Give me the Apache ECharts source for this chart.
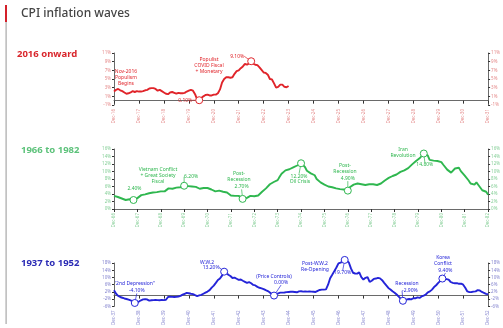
<!DOCTYPE html>
<html>
<head>
<meta charset="utf-8">
<script src="https://cdn.jsdelivr.net/npm/echarts@6/dist/echarts.min.js"></script>
<style>
  html, body { margin: 0; padding: 0; background: #fff; }
  #chart { width: 503px; height: 328px; }
</style>
</head>
<body>
<div id="chart"></div>
<script>
// Year-over-year CPI inflation (%), monthly, each panel starting in December.

// 2016 onward: Dec-2016 .. Dec-2023
const modernCpi = [2.1,
  2.5, 2.7, 2.4, 2.2, 1.9, 1.6, 1.7, 1.9, 2.2, 2.0, 2.2, 2.1,
  2.1, 2.2, 2.4, 2.5, 2.8, 2.9, 2.9, 2.7, 2.3, 2.5, 2.2, 1.9,
  1.6, 1.5, 1.9, 2.0, 1.8, 1.6, 1.8, 1.7, 1.7, 1.8, 2.1, 2.3,
  2.5, 2.3, 1.5, 0.3, 0.1, 0.6, 1.0, 1.3, 1.4, 1.2, 1.2, 1.4,
  1.4, 1.7, 2.6, 4.2, 5.0, 5.4, 5.4, 5.3, 5.4, 6.2, 6.8, 7.0,
  7.5, 7.9, 8.5, 8.3, 8.6, 9.1, 8.5, 8.3, 8.2, 7.7, 7.1, 6.5,
  6.4, 6.0, 5.0, 4.9, 4.0, 3.0, 3.2, 3.7, 3.7, 3.2, 3.1, 3.4];

// 1966 to 1982: Dec-1966 .. Dec-1982
const greatInflationCpi = [
  3.5, 3.4, 3.2, 3.0, 2.8, 2.6, 2.4, 2.5, 2.6, 2.6, 2.4, 2.6, 2.9, 3.3, 3.7, 3.8, 3.9, 4.0,
  4.2, 4.4, 4.4, 4.4, 4.5, 4.5, 4.7, 4.4, 4.7, 5.2, 5.5, 5.5, 5.4, 5.5, 5.7, 5.7, 5.8, 6.0,
  6.2,
  6.1, 6.1, 5.8, 6.0, 6.0, 5.9, 5.9, 5.4, 5.6, 5.6, 5.7, 5.6, 5.3,
  5.2, 5.0, 4.7, 4.8, 4.9, 4.7, 4.6, 4.4, 4.4, 4.0, 3.6, 3.3, 3.5, 3.5, 3.5, 3.2, 2.7, 2.9,
  2.9, 3.2, 3.5, 3.4, 3.4, 3.6,
  3.6, 4.0, 4.6, 5.0, 5.5, 5.5, 6.6, 7.0, 7.2, 7.4, 7.7, 8.6, 9.4, 9.8, 10.3, 10.4, 10.6,
  10.9, 11.1, 11.4, 11.6, 11.9, 12.2,
  11.8, 11.2, 10.2, 10.2, 9.5, 9.4, 9.0, 8.0, 7.6, 7.1, 6.7, 6.5, 6.2, 6.0, 5.9, 5.8, 5.7,
  5.5, 5.4, 5.3, 5.1, 5.2, 5.0, 4.9,
  5.8, 6.3, 6.5, 6.7, 6.8, 6.7, 6.6, 6.5, 6.4, 6.5, 6.6, 6.7, 6.6, 6.5, 6.4, 6.4, 6.8, 7.2,
  7.6, 7.9, 8.3, 8.5, 8.8, 9.0, 9.2, 9.5, 9.9, 10.1, 10.3, 10.5, 10.9, 11.4, 11.9, 12.3,
  12.8, 13.2, 13.6, 14.1, 14.8,
  14.6, 14.3, 13.1, 12.7, 12.9, 12.6, 12.8, 12.6, 12.5, 11.8, 11.4, 10.5, 10.0, 9.7, 9.6,
  10.8, 10.9, 11.0, 10.1, 9.6, 8.9, 8.4, 7.6, 6.8, 6.7, 6.5, 7.1, 6.4, 5.9, 5.0, 5.1, 4.6, 3.8];

// 1937 to 1952: Dec-1937 .. Dec-1952
const warEraCpi = [
  2.9, 1.0, -0.2, -0.8, -1.2, -1.6, -1.9, -2.3, -2.7, -3.2, -4.1, -3.8, -3.3, -2.6, -2.1,
  -2.0, -2.2, -2.8, -2.6,
  -2.5, -2.4, -2.5, -2.6, -2.4, -2.5, -2.3,
  -0.8, -0.6, -0.7, -0.8, -0.7, -0.5, -0.2, 0.5, 1.0, 1.5, 1.3, 1.0, 0.8, 0.2, -0.3, 0.1,
  0.4, 1.0, 1.6, 2.2, 3.0, 4.4, 5.5, 7.0, 8.6, 9.5, 11.0,
  13.2,
  12.8, 11.5, 10.8, 9.7, 9.9, 9.3, 8.7, 8.9, 8.2, 7.6, 7.0, 7.4, 6.8, 5.9, 5.6, 4.8, 4.3,
  4.0, 3.6, 3.0, 2.5, 1.7, 0.6,
  0.0,
  0.6, 1.2, 1.6, 1.6, 1.7, 1.9, 2.0, 2.1, 2.1, 2.0, 1.8, 2.3, 2.4, 2.2, 2.3, 2.2, 2.3, 2.2,
  2.1, 2.0, 2.6, 3.1, 3.3, 3.3, 3.4, 6.0, 9.6, 11.5, 13.5, 15.5, 17.8, 18.2, 18.8,
  19.7,
  19.2, 18.3, 15.0, 12.6, 12.2, 12.1, 12.8, 10.2, 8.8, 9.8, 10.2, 7.5, 8.2, 9.2, 9.4, 9.8,
  9.5, 8.5, 7.0, 5.6, 4.2, 3.4, 2.4, 1.6, 0.6, -0.6, -1.8,
  -2.9,
  -2.6, -2.1, -1.9, -2.1, -1.5, -1.5, -1.0, -1.3, -0.5, 0.0, 0.6, 1.8, 2.3, 3.3, 4.7, 5.7,
  7.0, 8.1,
  9.4,
  9.3, 9.1, 8.8, 7.5, 7.0, 6.8, 6.9, 6.5, 6.6, 6.0, 4.3, 2.3, 1.9, 2.0, 2.2, 2.3, 3.0, 2.8,
  2.0, 1.5, 0.9, 0.7];

// y-axis tick labels (%)
const modernTicks = [-1, 1, 3, 5, 7, 9, 11];
const greatInflationTicks = [0, 2, 4, 6, 8, 10, 12, 14, 16];
const warEraTicks = [-6, -2, 2, 6, 10, 14, 18];

// highlighted turning points: month and label offset from the point (px)
const modernMarks = [
  { at: 'May-20', dx: -14, dy: 0 },
  { at: 'Jun-22', dx: -14, dy: -5 }
];
const greatInflationMarks = [
  { at: 'Oct-67', dx: 1, dy: -11, line: false },
  { at: 'Dec-69', dx: 7, dy: -9 },
  { at: 'Jun-72', dx: -1, dy: -12 },
  { at: 'Dec-74', dx: -2, dy: 13 },
  { at: 'Dec-76', dx: 0, dy: -12 },
  { at: 'Mar-80', dx: 1, dy: 11 }
];
const warEraMarks = [
  { at: 'Oct-38', dx: 2, dy: -12 },
  { at: 'May-42', dx: -13, dy: -4 },
  { at: 'May-44', dx: 7, dy: -13 },
  { at: 'Mar-47', dx: -2, dy: 13 },
  { at: 'Jul-49', dx: 7, dy: -10 },
  { at: 'Feb-51', dx: 3, dy: -8 }
];

const MONTHS = ['Jan','Feb','Mar','Apr','May','Jun','Jul','Aug','Sep','Oct','Nov','Dec'];
// month labels from December of startYear through December of endYear
function monthCategories(startYear, endYear) {
  const out = ['Dec-' + String(startYear % 100).padStart(2, '0')];
  for (let y = startYear + 1; y <= endYear; y++) {
    for (let m = 0; m < 12; m++) {
      out.push(MONTHS[m] + '-' + String(y % 100).padStart(2, '0'));
    }
  }
  return out;
}

const modernCats = monthCategories(2016, 2031);
const greatInflationCats = monthCategories(1966, 1982);
const warEraCats = monthCategories(1937, 1952);

const FONT = '"Noto Sans", sans-serif';
const panels = [
  { cats: modernCats, values: modernCpi, marks: modernMarks, min: -1, max: 11, ticks: modernTicks,
    color: '#e0242a', tickColor: '#e58a8a', top: 53, height: 52 },
  { cats: greatInflationCats, values: greatInflationCpi, marks: greatInflationMarks, min: 0, max: 16,
    ticks: greatInflationTicks, color: '#2fb74f', tickColor: '#86cf98', top: 149, height: 60 },
  { cats: warEraCats, values: warEraCpi, marks: warEraMarks, min: -6, max: 18, ticks: warEraTicks,
    color: '#2424d8', tickColor: '#8585cf', top: 263, height: 44 }
];

const decOnly = (idx, label) => label.indexOf('Dec') === 0;

const grid = [], xAxis = [], yAxis = [], series = [];
panels.forEach((p, k) => {
  grid.push({ left: 114, right: 14, top: p.top, height: p.height, containLabel: false });
  xAxis.push({
    type: 'category', gridIndex: k, data: p.cats, boundaryGap: false,
    axisLine: { lineStyle: { color: '#6a6a6a', width: 1 } },
    axisTick: { interval: decOnly, length: 3, lineStyle: { color: '#333' } },
    axisLabel: { interval: decOnly, rotate: 90, fontSize: 4.5, color: p.tickColor, margin: 4, fontFamily: FONT },
    splitLine: { show: false }
  });
  ['left', 'right'].forEach(pos => {
    yAxis.push({
      type: 'value', gridIndex: k, position: pos, min: p.min, max: p.max,
      axisLine: { show: true, lineStyle: { color: '#6a6a6a', width: 1 } },
      axisTick: { show: true, length: 2, customValues: p.ticks, lineStyle: { color: '#333' } },
      axisLabel: { customValues: p.ticks, formatter: '{value}%', fontSize: 4.5, color: p.tickColor,
                   margin: 3, fontFamily: FONT },
      splitLine: { show: false }
    });
  });

  const markAt = {};
  p.marks.forEach(m => { markAt[p.cats.indexOf(m.at)] = m; });
  const data = p.values.map((v, i) => {
    const m = markAt[i];
    if (!m) return v;
    return {
      value: v, symbol: 'circle', symbolSize: 7,
      itemStyle: { color: '#fff', borderColor: p.color, borderWidth: 1 },
      label: { show: true },
      labelLine: { show: m.line !== false }
    };
  });
  series.push({
    type: 'line', xAxisIndex: k, yAxisIndex: 2 * k, data,
    symbol: 'none', showAllSymbol: true, smooth: false, silent: true, animation: false, clip: false,
    lineStyle: { color: p.color, width: 1.9 },
    itemStyle: { color: p.color },
    label: {
      show: false, position: 'inside', fontSize: 5, color: p.color, fontFamily: FONT,
      formatter: q => q.value.toFixed(2) + '%'
    },
    labelLine: { show: true, lineStyle: { color: p.color, width: 0.7 } },
    labelLayout: q => {
      const m = markAt[q.dataIndex];
      return m ? { dx: m.dx, dy: m.dy } : {};
    },
    z: 3
  });
});

// free-standing notes
function note(text, x, y, color) {
  return {
    type: 'text', x, y, silent: true,
    style: { text, fill: color, font: '5px ' + FONT, align: 'center', verticalAlign: 'middle', lineHeight: 6 }
  };
}
const red = panels[0].color, green = panels[1].color, blue = panels[2].color;

const graphic = [
  { type: 'rect', shape: { x: 5, y: 5, width: 2, height: 17 }, style: { fill: '#d4202a' }, silent: true },
  { type: 'rect', shape: { x: 5.5, y: 22, width: 1.2, height: 302 }, style: { fill: '#a8a8a8' }, silent: true },
  { type: 'text', x: 21, y: 14, silent: true,
    style: { text: 'CPI inflation waves', fill: '#444', font: '500 12px ' + FONT, verticalAlign: 'middle' } },
  { type: 'text', x: 17, y: 54.5, silent: true,
    style: { text: '2016 onward', fill: '#d9262c', font: 'bold 9.5px ' + FONT, verticalAlign: 'middle' } },
  { type: 'text', x: 21, y: 150.5, silent: true,
    style: { text: '1966 to 1982', fill: '#5cc27a', font: 'bold 9.5px ' + FONT, verticalAlign: 'middle' } },
  { type: 'text', x: 21, y: 263.5, silent: true,
    style: { text: '1937 to 1952', fill: '#2b2bb5', font: 'bold 9.5px ' + FONT, verticalAlign: 'middle' } },

  note('Nov-2016\nPopulism\nBegins', 126, 78, red),
  note('Populist\nCOVID Fiscal\n+ Monetary', 209, 65.5, red),

  note('Vietnam Conflict\n+ Great Society\nFiscal', 158, 176, green),
  note('Post-\nRecession', 239, 177, green),
  note('Oil Crisis', 300, 182, green),
  note('Post-\nRecession', 345, 169, green),
  note('Iran\nRevolution', 403, 153, green),

  note('"2nd Depression"', 134.5, 283.3, blue),
  note('W.W.2', 207, 262.7, blue),
  note('(Price Controls)', 274, 276.7, blue),
  note('Post-W.W.2\nRe-Opening', 315, 266.7, blue),
  note('Recession', 407, 283.3, blue),
  note('Korea\nConflict', 443, 260.7, blue)
];

const chart = echarts.init(document.getElementById('chart'), null, { renderer: 'canvas' });
chart.setOption({
  animation: false,
  backgroundColor: '#fff',
  grid, xAxis, yAxis, series, graphic
});
</script>
</body>
</html>
